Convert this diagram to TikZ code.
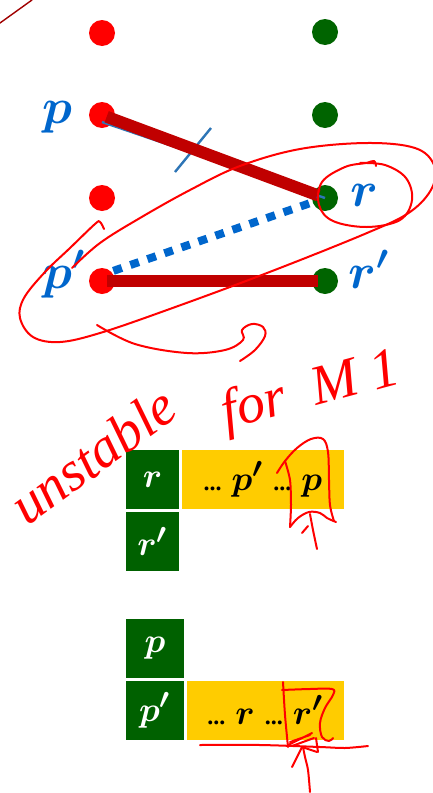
\documentclass[tikz,border=0pt]{standalone}
\usepackage{fontspec}
\setmainfont{Liberation Serif}
\usetikzlibrary{positioning}
\definecolor{ptblue}{HTML}{0066CC}
\definecolor{strikeblue}{HTML}{2E75B6}
\definecolor{edgered}{HTML}{C00000}
\definecolor{inkdark}{HTML}{A00000}
\definecolor{dotgreen}{HTML}{006400}
\definecolor{cellgreen}{HTML}{006100}
\definecolor{cellyellow}{HTML}{FFCC00}
\newcommand{\gap}{{\fontsize{12}{12}\selectfont\textbf{...}}}

\begin{document}
\begin{tikzpicture}[x=0.5pt, y=-0.5pt,
	rdot/.style={circle, fill=red, minimum size=13pt, inner sep=0pt},
	gdot/.style={circle, fill=dotgreen, minimum size=13pt, inner sep=0pt},
	lbl/.style={text=ptblue, font=\fontsize{23}{23}\selectfont\boldmath, inner sep=0pt, anchor=base},
	match/.style={draw=edgered, line width=6pt, shorten <=2.5pt, shorten >=3.5pt},
	blocked/.style={draw=ptblue, line width=4pt, dash pattern=on 4.5pt off 4.5pt, shorten <=1pt, shorten >=3.5pt},
	strike/.style={draw=strikeblue, line width=1.2pt},
	cell/.style={fill=cellgreen, text=white, minimum width=26.5pt, minimum height=29.5pt,
		inner sep=0pt, font=\fontsize{19}{19}\selectfont\boldmath},
	list/.style={fill=cellyellow, text=black, minimum height=29.5pt,
		inner sep=0pt, font=\fontsize{19}{19}\selectfont\boldmath},
	ink/.style={draw=red, line width=1pt, line cap=round, line join=round},
	scrawl/.style={text=red, font=\fontsize{28}{28}\selectfont\itshape, inner sep=0pt},
	]
	\useasboundingbox (0,0) rectangle (433,793);
	
	\node[rdot] (m1) at (102,33)  {};
	\node[rdot] (p)  at (102,115) {};
	\node[rdot] (m3) at (102,198) {};
	\node[rdot] (pp) at (102,281) {};
	\node[gdot] (w1) at (325,32)  {};
	\node[gdot] (w2) at (325,115) {};
	\node[gdot] (r)  at (325,198) {};
	\node[gdot] (rr) at (325,281) {};
	
	\node[lbl] (plbl)  at (57,123)  {$p$};
	\node[lbl] (rlbl)  at (364,206) {$r$};
	\node[lbl] (pplbl) at (64,288)  {$p'$};
	\node[lbl] (rrlbl) at (369,288) {$r'$};
	
	\draw[strike] ([yshift=-3.5pt]p.center) -- (r.center);
	\draw[strike] (175,172) -- (211,128);
	\draw[match] (p.center) -- (r.center);
	\draw[match] (pp.center) -- (rr.center);
	\draw[blocked] (pp.45) -- (r.center);
	
	\node[cell] (rcell) at (152.5,479.5) {$r$};
	\node[cell, below=1pt of rcell] (rrcell) {$r'$};
	\node[list, minimum width=81pt, right=1pt of rcell] (plist)
	{\gap\hspace{5pt}$p'$\hspace{5pt}\gap\hspace{5pt}$p$\hspace{7pt}};
	
	\node[cell, minimum width=29pt] (pcell) at (155,648.5) {$p$};
	\node[cell, minimum width=29pt, below=1pt of pcell] (ppcell) {$p'$};
	\node[list, minimum width=78.5pt, right=1pt of ppcell] (rlist)
	{\gap\hspace{5pt}$r$\hspace{5pt}\gap\hspace{5pt}$r'$\hspace{7pt}};
	
	\node[scrawl, rotate=36, anchor=base west] (unstable) at (27,527) {unstable};
	\node[scrawl, rotate=15, anchor=base west] (form) at (226,430) {for\hspace{0.5em}M\hspace{0.25em}1};
	
	\draw[ink, draw=inkdark, line width=0.7pt] (0,23) -- (32,0);
	\draw[ink] plot[smooth, tension=0.6] coordinates {(72,268) (100,243) (140,218) (190,190)
		(240,166) (300,149) (367,143) (415,148) (434,165) (432,188) (410,212) (367,233)
		(267,273) (167,310) (100,333) (60,342) (33,337) (20,318) (24,298) (45,272)
		(70,248) (95,224) (100,222) (104,229)};
	\draw[ink] plot[smooth, tension=0.6] coordinates {(376,166) (374,161) (366,163) (345,167)
		(322,182) (319,205) (333,221) (367,227) (400,220) (412,200) (406,178) (385,165) (360,163)};
	\draw[ink] plot[smooth, tension=0.6] coordinates {(97,325) (135,344) (187,353) (225,350)
		(243,340) (242,330) (252,324) (263,327) (265,336) (255,350) (240,361)};
	
	\draw[ink] plot[smooth, tension=0.6] coordinates {(277,473) (285,461) (297,448) (311,439)
		(323,439) (328,452) (329,480) (330,505) (334,521)};
	\draw[ink] plot[smooth, tension=0.5] coordinates {(285,461) (290,480) (291,505) (290,527)};
	\draw[ink] plot[smooth, tension=0.6] coordinates {(290,527) (298,518) (309,512) (320,513)
		(327,518) (336,522)};
	\draw[ink] plot[smooth, tension=0.6] coordinates {(310,514) (313,530) (317,549)};
	\draw[ink] (302,533) -- (308,526);
	
	\draw[ink] plot[smooth, tension=0.5] coordinates {(283,682) (285,715) (288,747)};
	\draw[ink] plot[smooth, tension=0.6] coordinates {(282,690) (310,689) (332,689) (333,695)
		(325,708) (320,723) (322,737) (329,741) (333,738)};
	\draw[ink] (288,745) -- (312,733) (290,742) -- (310,735) (292,746) -- (314,738);
	\draw[ink] plot[smooth, tension=0.5] coordinates {(200,745) (260,745) (320,747) (345,748) (368,746)};
	\draw[ink] plot[smooth, tension=0.5] coordinates {(310,792) (308,770) (305,757) (303,747)};
	\draw[ink] (292,767) -- (302,747) -- (317,752);
	\draw[ink] (316,738) -- (318,752);
	
\end{tikzpicture}
\end{document}
